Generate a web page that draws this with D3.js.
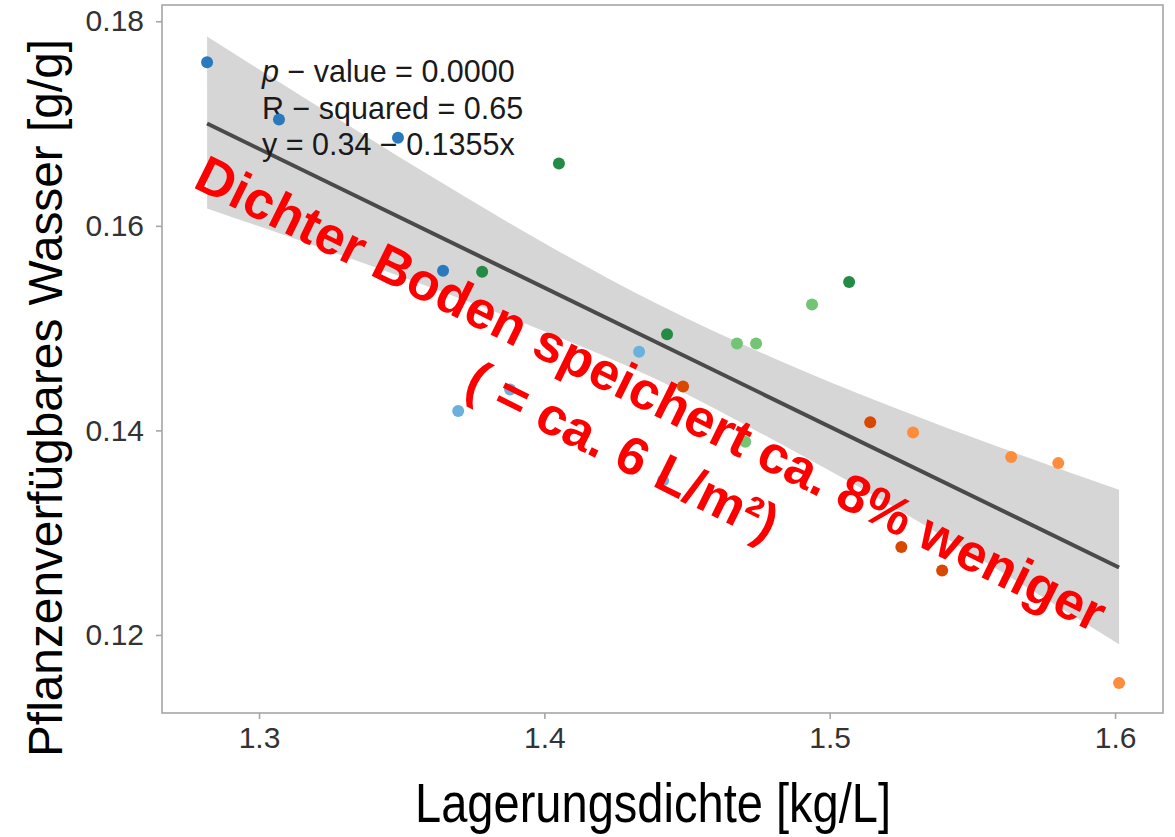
<!DOCTYPE html>
<html>
<head>
<meta charset="utf-8">
<script src="https://cdn.jsdelivr.net/npm/d3@7"></script>
<style>
  body { margin: 0; background: #fff; }
  svg { display: block; font-family: 'Liberation Sans', Arial, Helvetica, sans-serif; }
</style>
</head>
<body>
<main></main>
<script>
// bulk density vs plant available water, one colour per plot group
const density = [1.2818, 1.307, 1.3487, 1.3645,
                 1.4332, 1.388, 1.3698, 1.4416,
                 1.4051, 1.3782, 1.5068, 1.443,
                 1.4938, 1.4675, 1.4742, 1.4704,
                 1.4486, 1.5142, 1.5251, 1.5394,
                 1.5292, 1.5636, 1.5801, 1.6014]
const water = [0.1760, 0.1704, 0.1686, 0.1556,
               0.1477, 0.1440, 0.1419, 0.1351,
               0.1661, 0.1555, 0.1545, 0.1494,
               0.1523, 0.1485, 0.1485, 0.1389,
               0.1443, 0.1408, 0.1286, 0.1263,
               0.1398, 0.1374, 0.1368, 0.1153]
const group = [0, 0, 0, 0, 1, 1, 1, 1, 2, 2, 2, 2,
               3, 3, 3, 3, 4, 4, 4, 4, 5, 5, 5, 5]
const groupColors = ['#2a79bd', '#6cb0dc', '#238b45', '#74c476', '#d94801', '#fd8d3c']

// fitted line and its confidence band
const fitX = [1.2818, 1.6014]
const fitY = [0.1700, 0.1266]
const bandX = [1.2818, 1.32, 1.36, 1.40, 1.44, 1.48, 1.52, 1.56, 1.6014]
const bandLow = [0.1617, 0.1580, 0.1540, 0.1497, 0.1449, 0.1391, 0.1329, 0.1262, 0.1191]
const bandHigh = [0.1785, 0.1718, 0.1649, 0.1583, 0.1523, 0.1471, 0.1425, 0.1383, 0.1342]

const xTicks = [1.3, 1.4, 1.5, 1.6]
const yTicks = [0.12, 0.14, 0.16, 0.18]
const xDomain = [1.266, 1.6168]
const yDomain = [0.11237, 0.18159]

const statLines = [['p', ' − value = 0.0000'], ['', 'R − squared = 0.65'], ['', 'y = 0.34 − 0.1355x']]
const noteLines = ['Dichter Boden speichert ca. 8% weniger', '( = ca. 6 L/m²)']

const width = 1175
const height = 837
const panel = { left: 162, right: 1163, top: 5, bottom: 713 }

const svg = d3.select('main')
              .append('svg')
              .attr('width', width)
              .attr('height', height)

const xScale = d3.scaleLinear().domain(xDomain).range([panel.left, panel.right])
const yScale = d3.scaleLinear().domain(yDomain).range([panel.bottom, panel.top])

// confidence band
const band = bandX.map((d, i) => ({ x: d, lo: bandLow[i], hi: bandHigh[i] }))
svg.append('path')
   .datum(band)
   .attr('fill', '#d6d6d6')
   .attr('d', d3.area()
                .x(d => xScale(d.x))
                .y0(d => yScale(d.lo))
                .y1(d => yScale(d.hi))
                .curve(d3.curveMonotoneX))

// regression line
svg.append('path')
   .datum(fitX.map((d, i) => [d, fitY[i]]))
   .attr('fill', 'none')
   .attr('stroke', '#4a4a4a')
   .attr('stroke-width', 4)
   .attr('d', d3.line().x(d => xScale(d[0])).y(d => yScale(d[1])))

// stats text
const stats = svg.append('text')
                 .attr('font-size', 30.5)
                 .attr('fill', '#1a1a1a')
statLines.forEach((l, i) => {
  const t = stats.append('tspan').attr('x', 262).attr('y', 82 + i * 36.5)
  if (l[0]) t.append('tspan').attr('font-style', 'italic').text(l[0])
  t.append('tspan').text(l[1])
})

// points
svg.append('g')
   .selectAll('circle')
   .data(density)
   .enter()
   .append('circle')
   .attr('cx', d => xScale(d))
   .attr('cy', (d, i) => yScale(water[i]))
   .attr('r', 6)
   .attr('fill', (d, i) => groupColors[group[i]])

// panel border
svg.append('rect')
   .attr('x', panel.left)
   .attr('y', panel.top)
   .attr('width', panel.right - panel.left)
   .attr('height', panel.bottom - panel.top)
   .attr('fill', 'none')
   .attr('stroke', '#a6a6a6')
   .attr('stroke-width', 1.6)

const styleAxis = g => {
  g.select('.domain').remove()
  g.selectAll('line').attr('stroke', '#a6a6a6').attr('stroke-width', 1.6)
  g.selectAll('text').attr('fill', '#333').attr('font-size', 30).attr('font-family', null)
}

svg.append('g')
   .attr('transform', `translate(0, ${panel.bottom})`)
   .call(d3.axisBottom(xScale).tickValues(xTicks).tickSize(6).tickPadding(8).tickFormat(d3.format('.1f')))
   .call(styleAxis)

svg.append('g')
   .attr('transform', `translate(${panel.left}, 0)`)
   .call(d3.axisLeft(yScale).tickValues(yTicks).tickSize(6).tickPadding(12).tickFormat(d3.format('.2f')))
   .call(styleAxis)

// axis titles (the original lettering is narrow, so squeeze it)
svg.append('text')
   .attr('x', 653)
   .attr('y', 822)
   .attr('text-anchor', 'middle')
   .attr('font-size', 56)
   .attr('textLength', 476)
   .attr('lengthAdjust', 'spacingAndGlyphs')
   .text('Lagerungsdichte [kg/L]')

svg.append('text')
   .attr('transform', `translate(62, 398) rotate(-90)`)
   .attr('text-anchor', 'middle')
   .attr('font-size', 48)
   .attr('textLength', 718)
   .attr('lengthAdjust', 'spacingAndGlyphs')
   .text('Pflanzenverfügbares Wasser [g/g]')

// red annotation
const note = svg.append('g')
                .attr('transform', 'translate(643, 410) rotate(26.3)')
noteLines.forEach((l, i) => {
  note.append('text')
      .attr('x', 0)
      .attr('y', i * 64)
      .attr('text-anchor', 'middle')
      .attr('font-size', 53)
      .attr('font-weight', 'bold')
      .attr('fill', '#ff0000')
      .text(l)
})
</script>
</body>
</html>
